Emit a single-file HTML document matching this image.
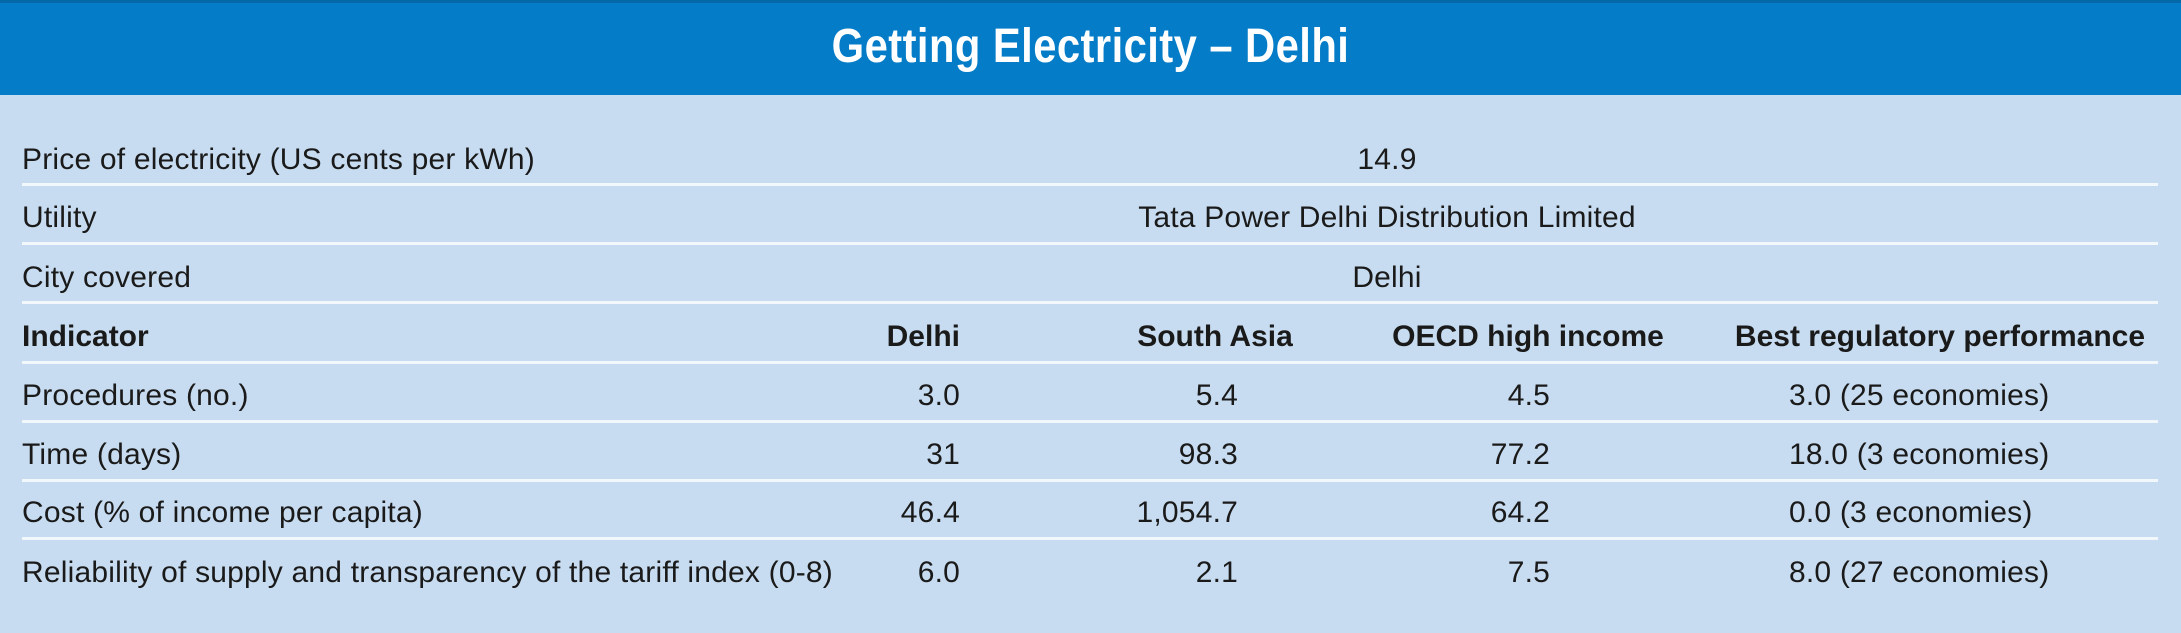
<!DOCTYPE html>
<html><head><meta charset="utf-8"><style>
html,body{margin:0;padding:0}
body{width:2181px;height:633px;background:#c7dcf0;position:relative;overflow:hidden;font-family:"Liberation Sans",Arial,sans-serif;color:#1a1a1a}
.hdr{position:absolute;left:0;top:0;width:2181px;height:95px;background:#057cc8;border-top:3px solid #0569a8;box-sizing:border-box}
.title{position:absolute;left:0;width:2181px;top:19px;text-align:center;color:#fff;font-weight:bold;font-size:48px;line-height:56px}
.title span{display:inline-block;transform:scaleX(0.87);letter-spacing:0.5px}
.t{position:absolute;font-size:30px;line-height:36px;white-space:nowrap;letter-spacing:0.2px}
.b{font-weight:bold;letter-spacing:0px}
.r{text-align:right}
.c{text-align:center}
.ln{position:absolute;left:22px;width:2136px;height:3px;background:#f2f7fc}
</style></head><body>
<div class="hdr"></div>
<div class="title"><span>Getting Electricity – Delhi</span></div>

<div class="t" style="left:22px;top:142px">Price of electricity (US cents per kWh)</div>
<div class="t c" style="left:1187px;width:400px;top:142px">14.9</div>
<div class="ln" style="top:183px"></div>

<div class="t" style="left:22px;top:200px">Utility</div>
<div class="t c" style="left:1087px;width:600px;top:200px">Tata Power Delhi Distribution Limited</div>
<div class="ln" style="top:242px"></div>

<div class="t" style="left:22px;top:260px">City covered</div>
<div class="t c" style="left:1187px;width:400px;top:260px">Delhi</div>
<div class="ln" style="top:301px"></div>

<div class="t b" style="left:22px;top:319px">Indicator</div>
<div class="t b r" style="left:760px;width:200px;top:319px">Delhi</div>
<div class="t b c" style="left:1065px;width:300px;top:319px">South Asia</div>
<div class="t b c" style="left:1378px;width:300px;top:319px">OECD high income</div>
<div class="t b c" style="left:1700px;width:480px;top:319px">Best regulatory performance</div>
<div class="ln" style="top:361px"></div>

<div class="t" style="left:22px;top:378px">Procedures (no.)</div>
<div class="t r" style="left:760px;width:200px;top:378px">3.0</div>
<div class="t r" style="left:1038px;width:200px;top:378px">5.4</div>
<div class="t r" style="left:1350px;width:200px;top:378px">4.5</div>
<div class="t" style="left:1789px;top:378px">3.0 (25 economies)</div>
<div class="ln" style="top:420px"></div>

<div class="t" style="left:22px;top:437px">Time (days)</div>
<div class="t r" style="left:760px;width:200px;top:437px">31</div>
<div class="t r" style="left:1038px;width:200px;top:437px">98.3</div>
<div class="t r" style="left:1350px;width:200px;top:437px">77.2</div>
<div class="t" style="left:1789px;top:437px">18.0 (3 economies)</div>
<div class="ln" style="top:479px"></div>

<div class="t" style="left:22px;top:495px">Cost (% of income per capita)</div>
<div class="t r" style="left:760px;width:200px;top:495px">46.4</div>
<div class="t r" style="left:1038px;width:200px;top:495px">1,054.7</div>
<div class="t r" style="left:1350px;width:200px;top:495px">64.2</div>
<div class="t" style="left:1789px;top:495px">0.0 (3 economies)</div>
<div class="ln" style="top:537px"></div>

<div class="t" style="left:22px;top:555px">Reliability of supply and transparency of the tariff index (0-8)</div>
<div class="t r" style="left:760px;width:200px;top:555px">6.0</div>
<div class="t r" style="left:1038px;width:200px;top:555px">2.1</div>
<div class="t r" style="left:1350px;width:200px;top:555px">7.5</div>
<div class="t" style="left:1789px;top:555px">8.0 (27 economies)</div>
</body></html>
